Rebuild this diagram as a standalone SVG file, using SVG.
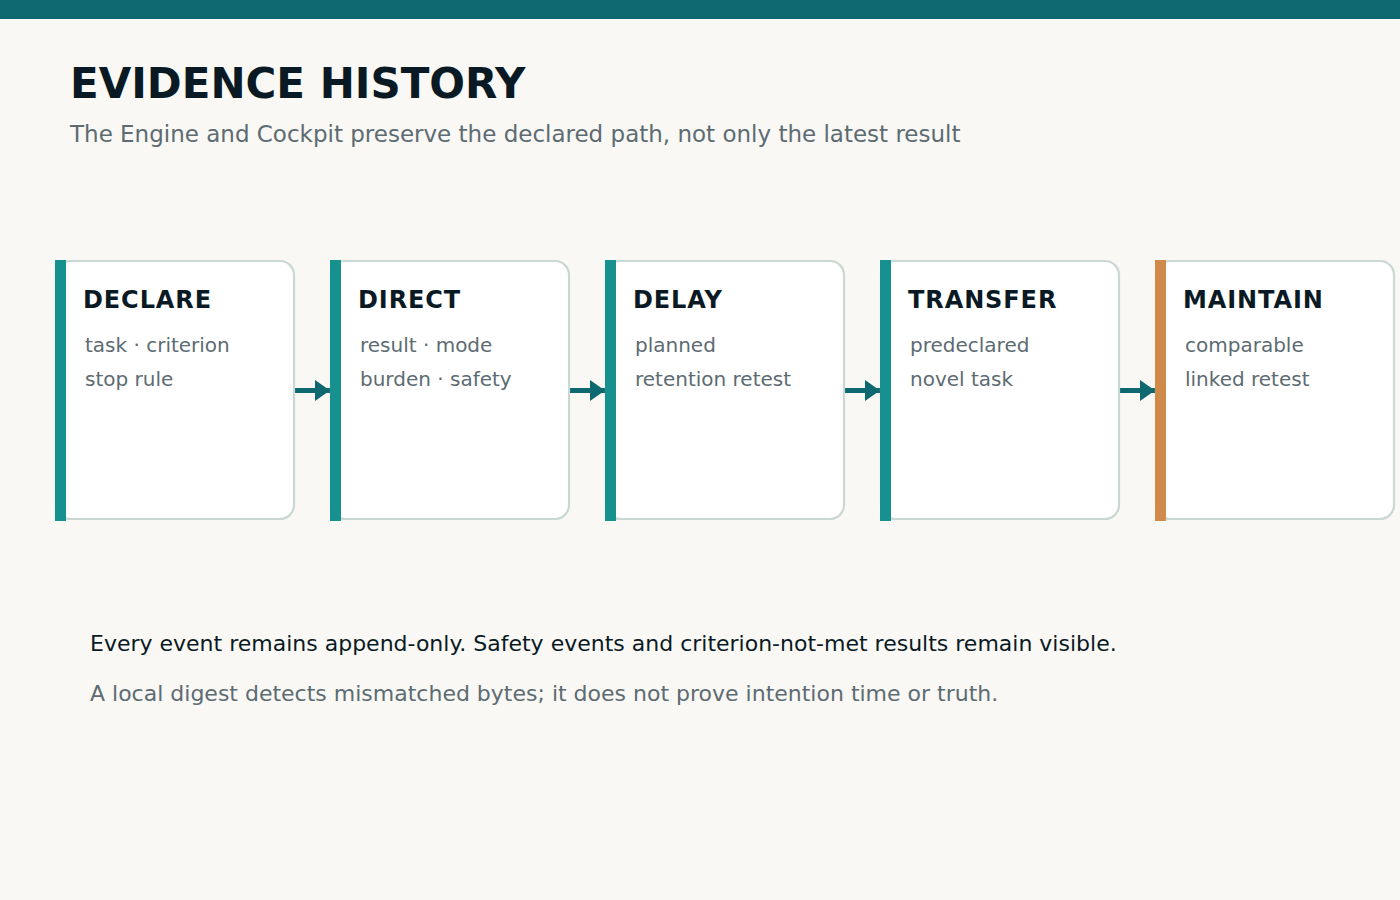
<svg xmlns="http://www.w3.org/2000/svg" width="1400" height="900" viewBox="0 0 1400 900">
<defs>
<style>
text{font-family:"DejaVu Sans","Liberation Sans",sans-serif}
.title{font-size:42px;font-weight:bold;fill:#0a1a24}
.sub{font-size:23px;fill:#5d6b72}
.card{fill:#ffffff;stroke:#cad8d4;stroke-width:2.2}
.acc{fill:#17918f}
.acc2{fill:#d08a4a}
.h{font-size:24px;font-weight:bold;fill:#0a1a24;letter-spacing:0.9px}
.b{font-size:20px;fill:#5d6b72}
.conn{stroke:#0d6870;stroke-width:5;fill:none}
.n1{font-size:22px;fill:#0a1a24}
.n2{font-size:22px;fill:#5d6b72}
</style>
<marker id="ah" markerWidth="3" markerHeight="4.2" refX="3" refY="2.1" orient="auto" markerUnits="strokeWidth">
<path d="M0,0 L3,2.1 L0,4.2 z" fill="#0d6870"/>
</marker>
</defs>
<rect x="0" y="0" width="1400" height="900" fill="#f9f8f4"/>
<rect x="0" y="0" width="1400" height="19" fill="#0d6870"/>
<text class="title" x="70" y="98">EVIDENCE HISTORY</text>
<text class="sub" x="70" y="142">The Engine and Cockpit preserve the declared path, not only the latest result</text>

<g id="connectors">
<line class="conn" x1="295" y1="390.5" x2="330" y2="390.5" marker-end="url(#ah)"/>
<line class="conn" x1="570" y1="390.5" x2="605" y2="390.5" marker-end="url(#ah)"/>
<line class="conn" x1="845" y1="390.5" x2="880" y2="390.5" marker-end="url(#ah)"/>
<line class="conn" x1="1120" y1="390.5" x2="1155" y2="390.5" marker-end="url(#ah)"/>
</g>

<g id="declare">
<rect class="card" x="56" y="261" width="238" height="258" rx="14"/>
<rect class="acc" x="55" y="260" width="11" height="261"/>
<text class="h" x="83" y="308">DECLARE</text>
<text class="b" x="85" y="352">task · criterion</text>
<text class="b" x="85" y="386">stop rule</text>
</g>
<g id="direct">
<rect class="card" x="331" y="261" width="238" height="258" rx="14"/>
<rect class="acc" x="330" y="260" width="11" height="261"/>
<text class="h" x="358" y="308">DIRECT</text>
<text class="b" x="360" y="352">result · mode</text>
<text class="b" x="360" y="386">burden · safety</text>
</g>
<g id="delay">
<rect class="card" x="606" y="261" width="238" height="258" rx="14"/>
<rect class="acc" x="605" y="260" width="11" height="261"/>
<text class="h" x="633" y="308">DELAY</text>
<text class="b" x="635" y="352">planned</text>
<text class="b" x="635" y="386">retention retest</text>
</g>
<g id="transfer">
<rect class="card" x="881" y="261" width="238" height="258" rx="14"/>
<rect class="acc" x="880" y="260" width="11" height="261"/>
<text class="h" x="908" y="308">TRANSFER</text>
<text class="b" x="910" y="352">predeclared</text>
<text class="b" x="910" y="386">novel task</text>
</g>
<g id="maintain">
<rect class="card" x="1156" y="261" width="238" height="258" rx="14"/>
<rect class="acc2" x="1155" y="260" width="11" height="261"/>
<text class="h" x="1183" y="308">MAINTAIN</text>
<text class="b" x="1185" y="352">comparable</text>
<text class="b" x="1185" y="386">linked retest</text>
</g>

<text class="n1" x="90" y="651">Every event remains append-only. Safety events and criterion-not-met results remain visible.</text>
<text class="n2" x="90" y="701">A local digest detects mismatched bytes; it does not prove intention time or truth.</text>
</svg>
